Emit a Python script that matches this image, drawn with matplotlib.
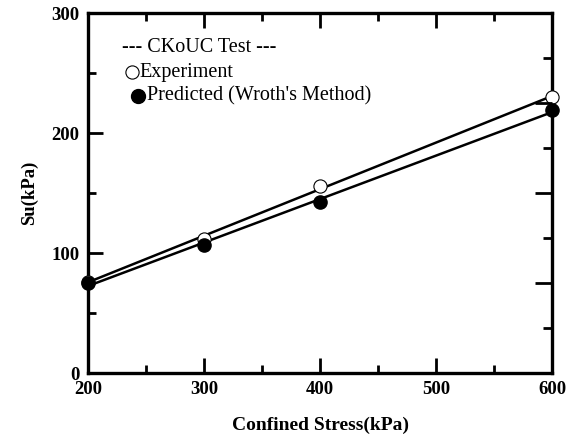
import numpy as np
import matplotlib
matplotlib.use("Agg")
import matplotlib.pyplot as plt
from matplotlib.ticker import FixedLocator

# Confined stress (kPa) and undrained shear strength Su (kPa)
stress = [200, 300, 400, 600]
su_experiment = [76, 112, 156, 230]
su_predicted = [75, 107, 142.5, 219]

x_major = [300, 400, 500]
x_minor = [250, 350, 450, 550]
y_major = [0, 100, 200, 300]
y_minor = [50, 150, 250]
right_major = [75, 150, 225]
right_minor = [37.5, 112.5, 187.5, 262.5]

plt.rcParams["font.family"] = ["Liberation Serif", "DejaVu Serif"]

fig = plt.figure(figsize=(5.74, 4.38), dpi=100)
ax = fig.add_axes([88 / 574, 65 / 438, 464 / 574, 360 / 438])

# least-squares lines through each series
xs = np.array([200, 600])
for ys in (su_experiment, su_predicted):
    k, b = np.polyfit(stress, ys, 1)
    ax.plot(xs, k * xs + b, color="black", lw=1.8, solid_capstyle="butt", zorder=2)

ax.plot(stress, su_experiment, "o", ms=9.5, mfc="white", mec="black", mew=0.8,
        clip_on=False, zorder=3)
ax.plot(stress, su_predicted, "o", ms=9.5, mfc="black", mec="black",
        clip_on=False, zorder=4)

ax.set_xlim(200, 600)
ax.set_ylim(0, 300)

for s in ax.spines.values():
    s.set_linewidth(2.4)

ax.xaxis.set_major_locator(FixedLocator([200] + x_major + [600]))
ax.xaxis.set_minor_locator(FixedLocator(x_minor))
ax.yaxis.set_major_locator(FixedLocator(y_major))
ax.yaxis.set_minor_locator(FixedLocator(y_minor))
ax.tick_params(axis="both", which="major", direction="in", length=11, width=2,
               labelsize=13.5, top=True, right=False, pad=6)
ax.tick_params(axis="both", which="minor", direction="in", length=5.5, width=2,
               top=True, right=False)
for lab in ax.get_xticklabels() + ax.get_yticklabels():
    lab.set_fontweight("bold")

# right-hand axis carries its own tick spacing
axr = ax.twinx()
axr.set_ylim(0, 300)
axr.yaxis.set_major_locator(FixedLocator(right_major))
axr.yaxis.set_minor_locator(FixedLocator(right_minor))
axr.tick_params(axis="y", which="major", direction="in", length=12, width=2,
                labelright=False)
axr.tick_params(axis="y", which="minor", direction="in", length=6.5, width=2,
                labelright=False)
for s in axr.spines.values():
    s.set_visible(False)

ax.set_xlabel("Confined Stress(kPa)", fontsize=14, fontweight="bold", labelpad=13)
ax.set_ylabel("Su(kPa)", fontsize=13.5, fontweight="bold", labelpad=10)

# key
tr = ax.transAxes
ax.text(0.073, 0.903, "--- CKoUC Test ---", transform=tr, fontsize=14.5,
        va="center", ha="left")
ax.plot([0.095], [0.836], "o", ms=9.5, mfc="white", mec="black", mew=0.8,
        transform=tr, clip_on=False)
ax.text(0.110, 0.836, "Experiment", transform=tr, fontsize=14.5,
        va="center", ha="left")
ax.plot([0.107], [0.77], "o", ms=10, mfc="black", mec="black",
        transform=tr, clip_on=False)
ax.text(0.127, 0.77, "Predicted (Wroth's Method)", transform=tr, fontsize=14.5,
        va="center", ha="left")

fig.savefig("out.png", dpi=100)
